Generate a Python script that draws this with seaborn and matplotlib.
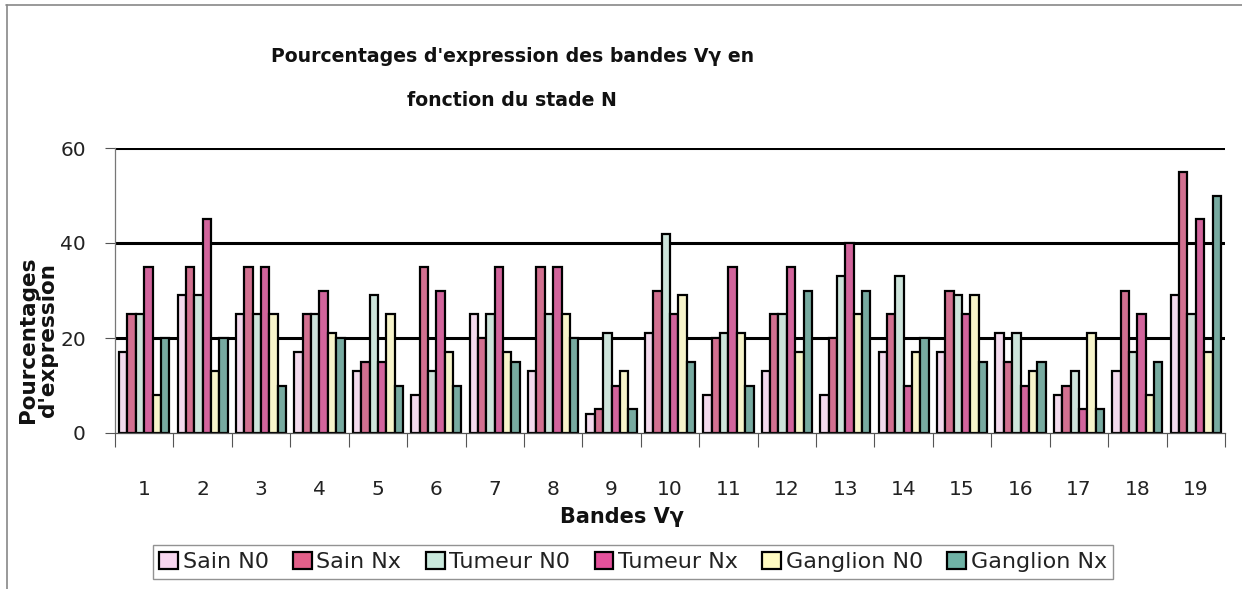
import numpy as np
import pandas as pd
import matplotlib
matplotlib.use("Agg")
import matplotlib.pyplot as plt
from matplotlib.lines import Line2D
from matplotlib.patches import Patch
import seaborn as sns

# Vγ bands on the x axis
bands = [str(i) for i in range(1, 20)]
series = ["Sain N0", "Sain Nx", "Tumeur N0", "Tumeur Nx", "Ganglion N0", "Ganglion Nx"]

# Expression percentages per band, one list per group
sain_n0 = [17, 29, 25, 17, 13, 8, 25, 13, 4, 21, 8, 13, 8, 17, 17, 21, 8, 13, 29]
sain_nx = [25, 35, 35, 25, 15, 35, 20, 35, 5, 30, 20, 25, 20, 25, 30, 15, 10, 30, 55]
tumeur_n0 = [25, 29, 25, 25, 29, 13, 25, 25, 21, 42, 21, 25, 33, 33, 29, 21, 13, 17, 25]
tumeur_nx = [35, 45, 35, 30, 15, 30, 35, 35, 10, 25, 35, 35, 40, 10, 25, 10, 5, 25, 45]
ganglion_n0 = [8, 13, 25, 21, 25, 17, 17, 25, 13, 29, 21, 17, 25, 17, 29, 13, 21, 8, 17]
ganglion_nx = [20, 20, 10, 20, 10, 10, 15, 20, 5, 15, 10, 30, 30, 20, 15, 15, 5, 15, 50]

y_ticks = [0, 20, 40, 60]

colors = ["#f7d6ef", "#e2608a", "#c9e8dc", "#e4529c", "#fffbc2", "#6fb2a5"]

values = [sain_n0, sain_nx, tumeur_n0, tumeur_nx, ganglion_n0, ganglion_nx]
df = pd.DataFrame({
    "bande": np.tile(bands, len(series)),
    "groupe": np.repeat(series, len(bands)),
    "pct": np.concatenate(values),
})

sns.set_theme(style="white")
plt.rcParams["font.family"] = ["DejaVu Sans"]

W, H = 1242, 589
fig = plt.figure(figsize=(W / 100, H / 100), dpi=100)
fig.patch.set_facecolor("white")
ax = fig.add_axes([115 / W, 1 - 433 / H, (1225 - 115) / W, (433 - 148) / H])

sns.barplot(data=df, x="bande", y="pct", hue="groupe", order=bands,
            hue_order=series, palette=colors, width=0.86,
            edgecolor="black", linewidth=1.6, ax=ax, legend=False)

ax.set_ylim(0, 60)
ax.set_xlim(-0.5, len(bands) - 0.5)
ax.set_yticks(y_ticks)
ax.set_yticklabels([str(v) for v in y_ticks], fontsize=14.5, color="#222222")
ax.tick_params(axis="y", length=7, width=0.8, pad=14, color="#555555", left=True)

# Category separators below the axis
ax.set_xticks(np.arange(len(bands)))
ax.set_xticklabels(bands, fontsize=14.5, color="#222222")
ax.set_xticks(np.arange(-0.5, len(bands), 1.0), minor=True)
ax.tick_params(axis="x", which="major", length=0, pad=34)
ax.tick_params(axis="x", which="minor", length=10, width=0.8,
               color="#555555", bottom=True, direction="out")

# Heavy black gridlines
for v in (20, 40, 60):
    ax.axhline(v, color="black", linewidth=2.2, zorder=0)

for s in ("top", "right"):
    ax.spines[s].set_visible(False)
ax.spines["left"].set_color("#777777")
ax.spines["left"].set_linewidth(0.9)
ax.spines["bottom"].set_color("#555555")
ax.spines["bottom"].set_linewidth(0.9)

ax.set_xlabel("")
ax.set_ylabel("")

# Titles and axis labels
fig.text(513 / W, 1 - 57 / H, "Pourcentages d'expression des bandes Vγ en",
         ha="center", va="center", fontsize=13.6, fontweight="bold", color="#111111")
fig.text(512 / W, 1 - 100 / H, "fonction du stade N",
         ha="center", va="center", fontsize=13.6, fontweight="bold", color="#111111")
fig.text(622 / W, 1 - 517 / H, "Bandes Vγ", ha="center", va="center",
         fontsize=15, fontweight="bold", color="#111111")
fig.text(38 / W, 1 - 340 / H, "Pourcentages\nd'expression", ha="center",
         va="center", rotation=90, fontsize=15.5, fontweight="bold",
         color="#111111", linespacing=1.05)

# Legend
handles = [Patch(facecolor=c, edgecolor="black", linewidth=1.6) for c in colors]
leg = fig.legend(handles, series, loc="center", bbox_to_anchor=(633 / W, 1 - 562 / H),
                 ncol=6, fontsize=16, frameon=True, fancybox=False,
                 handlelength=0.85, handleheight=0.85, handletextpad=0.2,
                 columnspacing=1.1, borderpad=0.3)
leg.get_frame().set_edgecolor("#777777")
leg.get_frame().set_linewidth(1.0)
for t in leg.get_texts():
    t.set_color("#222222")

# Outer chart frame
fig.add_artist(Line2D([6 / W, 1.0], [1 - 5 / H, 1 - 5 / H], transform=fig.transFigure,
                      color="#888888", linewidth=1.2))
fig.add_artist(Line2D([7 / W, 7 / W], [0.0, 1 - 5 / H], transform=fig.transFigure,
                      color="#888888", linewidth=1.2))

fig.savefig("out.png", dpi=100, facecolor="white")
